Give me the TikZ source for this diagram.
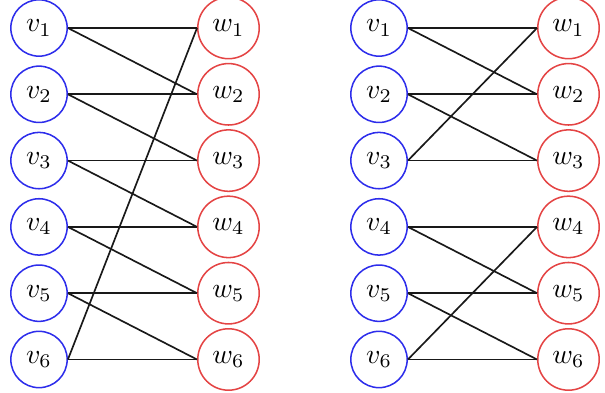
\documentclass[tikz,border=0pt]{standalone}
\definecolor{vblue}{RGB}{45,45,235}
\definecolor{wred}{RGB}{228,68,68}
\begin{document}
\begin{tikzpicture}[x=0.36pt,y=-0.36pt,
  vnode/.style={circle,draw=vblue,line width=0.55pt},
  wnode/.style={circle,draw=wred,line width=0.55pt},
  edge/.style={line width=0.6pt,black!90}]
\useasboundingbox (0,0) rectangle (605,393);
% left graph
\foreach \i in {1,...,6}{
  \node[vnode] (a\i) at (39,{28+66.3*(\i-1)}) {$v_{\i}$};
  \node[wnode] (b\i) at (228.5,{28+66.3*(\i-1)}) {$w_{\i}$};
}
% right graph
\foreach \i in {1,...,6}{
  \node[vnode] (c\i) at (379,{28+66.3*(\i-1)}) {$v_{\i}$};
  \node[wnode] (d\i) at (568.5,{28+66.3*(\i-1)}) {$w_{\i}$};
}
\foreach \p/\q in {1/1,1/2,2/2,2/3,3/3,3/4,4/4,4/5,5/5,5/6,6/6,6/1}
  \draw[edge] (a\p.east) -- (b\q.west);
\foreach \p/\q in {1/1,1/2,2/2,2/3,3/3,3/1,4/4,4/5,5/5,5/6,6/6,6/4}
  \draw[edge] (c\p.east) -- (d\q.west);
\end{tikzpicture}
\end{document}
